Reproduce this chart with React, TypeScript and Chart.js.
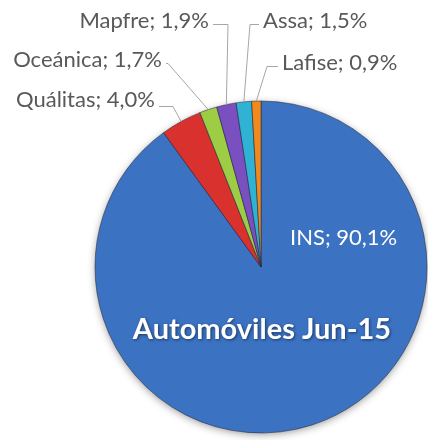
import React, { useEffect, useRef } from "react";
import { Chart, registerables } from "chart.js";

Chart.register(...registerables);

const labels = ["INS", "Quálitas", "Oceánica", "Mapfre", "Assa", "Lafise"];
const values = [90.1, 4.0, 1.7, 1.9, 1.5, 0.9];
const valueText = ["90,1%", "4,0%", "1,7%", "1,9%", "1,5%", "0,9%"];
const colors = ["#3b72c2", "#d9312e", "#9ccd45", "#7a4fc0", "#2fb2d4", "#f08a1c"];
const title = "Automóviles Jun-15";

// label layout (pixels): text anchor, alignment, elbow of leader line
const labelLayout = [
  { x: 290, y: 238, align: "left", inside: true },
  { x: 155, y: 100, align: "right", ex: 173, ey: 106 },
  { x: 162, y: 60, align: "right", ex: 168, ey: 63 },
  { x: 209, y: 21, align: "right", ex: 228, ey: 24 },
  { x: 263, y: 21, align: "left", ex: 250, ey: 24 },
  { x: 282, y: 63, align: "left", ex: 267, ey: 66 },
];

const FONT = "Lato, 'Open Sans', sans-serif";

function shade(hex: string, f: number) {
  const n = parseInt(hex.slice(1), 16);
  let r = (n >> 16) & 255, g = (n >> 8) & 255, b = n & 255;
  const adj = (c: number) => Math.max(0, Math.min(255, Math.round(f < 0 ? c * (1 + f) : c + (255 - c) * f)));
  return `rgb(${adj(r)},${adj(g)},${adj(b)})`;
}

const shadowPlugin = {
  id: "pieShadow",
  beforeDatasetsDraw(chart: any) {
    const meta = chart.getDatasetMeta(0);
    const arc = meta.data[0];
    if (!arc) return;
    const ctx = chart.ctx;
    ctx.save();
    ctx.shadowColor = "rgba(0,0,0,0.45)";
    ctx.shadowBlur = 9;
    ctx.shadowOffsetX = 0;
    ctx.shadowOffsetY = 2;
    ctx.beginPath();
    ctx.arc(arc.x, arc.y, arc.outerRadius - 1, 0, Math.PI * 2);
    ctx.fillStyle = colors[0];
    ctx.fill();
    ctx.restore();
  },
};

const labelPlugin = {
  id: "pieLabels",
  afterDatasetsDraw(chart: any) {
    const meta = chart.getDatasetMeta(0);
    const ctx = chart.ctx;
    ctx.save();
    meta.data.forEach((arc: any, i: number) => {
      const lay = labelLayout[i];
      const text = `${labels[i]}; ${valueText[i]}`;
      ctx.font = `22px ${FONT}`;
      ctx.textBaseline = "middle";
      ctx.textAlign = lay.align;
      if (lay.inside) {
        ctx.fillStyle = "#ffffff";
        ctx.fillText(text, lay.x, lay.y);
        return;
      }
      const mid = (arc.startAngle + arc.endAngle) / 2;
      const px = arc.x + Math.cos(mid) * arc.outerRadius;
      const py = arc.y + Math.sin(mid) * arc.outerRadius;
      const w = ctx.measureText(text).width;
      const tx = lay.align === "right" ? lay.x + 4 : lay.x - 4;
      ctx.strokeStyle = "#a6a6a6";
      ctx.lineWidth = 1;
      ctx.beginPath();
      ctx.moveTo(tx, lay.ey + 0.5);
      ctx.lineTo(lay.ex, lay.ey + 0.5);
      ctx.lineTo(px, py);
      ctx.stroke();
      ctx.fillStyle = "#595959";
      ctx.fillText(text, lay.x, lay.y);
      void w;
    });
    // title
    const a0 = meta.data[0];
    ctx.font = `bold 29px ${FONT}`;
    ctx.textAlign = "center";
    ctx.textBaseline = "alphabetic";
    ctx.shadowColor = "rgba(0,0,0,0.5)";
    ctx.shadowBlur = 3;
    ctx.shadowOffsetX = 1;
    ctx.shadowOffsetY = 1;
    ctx.fillStyle = "#ffffff";
    ctx.fillText(title, a0.x + 1, 339);
    ctx.restore();
  },
};

export default function App() {
  const ref = useRef<HTMLCanvasElement>(null);
  useEffect(() => {
    if (!ref.current) return;
    const chart = new Chart(ref.current, {
      type: "pie",
      data: {
        labels,
        datasets: [
          {
            data: values,
            backgroundColor: (c: any) => {
              const col = colors[c.dataIndex] || colors[0];
              const el = c.element;
              if (!el || !el.outerRadius) return col;
              const g = c.chart.ctx.createRadialGradient(el.x, el.y, 0, el.x, el.y, el.outerRadius);
              g.addColorStop(0, col);
              g.addColorStop(0.9, col);
              g.addColorStop(0.97, shade(col, -0.08));
              g.addColorStop(1, shade(col, -0.2));
              return g;
            },
            borderColor: "rgba(40,40,60,0.55)",
            borderWidth: 1,
          },
        ],
      },
      options: {
        responsive: false,
        animation: false,
        radius: 166,
        layout: { padding: { left: 95, right: 1, top: 101, bottom: 7 } },
        plugins: { legend: { display: false }, tooltip: { enabled: false } },
        events: [],
      },
      plugins: [shadowPlugin, labelPlugin],
    });
    return () => chart.destroy();
  }, []);
  return (
    <div style={{ position: "absolute", left: 0, top: 0, width: 428, height: 440, background: "#ffffff" }}>
      <canvas ref={ref} width={428} height={440} style={{ display: "block" }} />
    </div>
  );
}
